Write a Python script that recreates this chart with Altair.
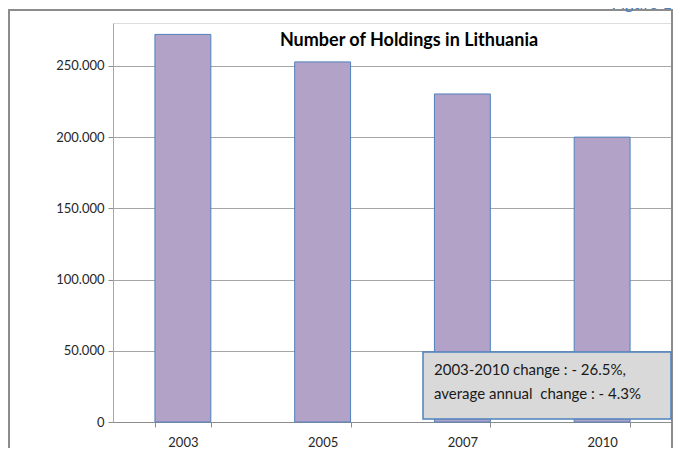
import altair as alt
import pandas as pd

years = ["2003", "2005", "2007", "2010"]
holdings = [272000, 252700, 230200, 199900]
title_text = "Number of Holdings in Lithuania"
note_lines = ["2003-2010 change : - 26.5%,", "average annual  change : - 4.3%"]
figure_label = "Figure 1"

df = pd.DataFrame({"year": years, "holdings": holdings})

W, H = 559, 399
FONT = "Lato"

x_enc = alt.X(
    "year:N",
    sort=years,
    title=None,
    scale=alt.Scale(paddingInner=0.6, paddingOuter=0.3),
    axis=alt.Axis(
        labelAngle=0, labelFont=FONT, labelFontSize=13, labelColor="#262626",
        domainColor="#8c8c8c", tickColor="#8c8c8c", tickSize=5, labelPadding=9,
        tickBand="extent", grid=False, labelBaseline="top",
    ),
)
y_enc = alt.Y(
    "holdings:Q",
    title=None,
    scale=alt.Scale(domain=[0, 280000], nice=False),
    axis=alt.Axis(
        values=[0, 50000, 100000, 150000, 200000, 250000],
        labelExpr="replace(format(datum.value, ','), ',', '.')",
        labelFont=FONT, labelFontSize=13, labelColor="#262626",
        domainColor="#a6a6a6", tickColor="#8c8c8c", tickSize=5, labelPadding=4,
        gridColor="#a6a6a6", gridWidth=1,
    ),
)

frame = alt.Chart(df).mark_rect(fill=None, stroke="#8c8c8c", strokeWidth=2, clip=False).encode(
    x=alt.value(-104), x2=alt.value(559), y=alt.value(-13), y2=alt.value(460)
)

bars = alt.Chart(df).mark_bar(
    color="#b3a2c7", stroke="#4f81bd", strokeWidth=1
).encode(x=x_enc, y=y_enc)

title_df = pd.DataFrame({"t": [title_text]})
title = alt.Chart(title_df).mark_text(
    font=FONT, fontSize=18, fontWeight="bold", color="#000000", align="center", baseline="alphabetic"
).encode(text="t:N", x=alt.value(296), y=alt.value(23))

fig_df = pd.DataFrame({"t": [figure_label]})
fig = alt.Chart(fig_df).mark_text(
    font=FONT, fontSize=18, fontStyle="italic", color="#4f81bd", align="right", baseline="alphabetic", clip=False
).encode(text="t:N", x=alt.value(560), y=alt.value(-14))

box = alt.Chart(title_df).mark_rect(fill="#d9d9d9", stroke="#4f81bd", strokeWidth=1.5).encode(
    x=alt.value(310), x2=alt.value(558), y=alt.value(329), y2=alt.value(396)
)

# keep the double space visible (SVG collapses runs of spaces)
note_text = "\n".join(line.replace("  ", " \u00a0") for line in note_lines)
note_df = pd.DataFrame({"t": [note_text]})
note = alt.Chart(note_df).mark_text(
    font=FONT, fontSize=15, color="#1a1a1a", align="left", baseline="alphabetic",
    lineBreak="\n", lineHeight=24,
).encode(text="t:N", x=alt.value(321), y=alt.value(352))

chart = alt.layer(frame, bars, title, fig, box, note).properties(
    width=W, height=H,
    autosize=alt.AutoSizeParams(type="none"),
    padding={"left": 105, "top": 15, "right": 1, "bottom": 26},
).configure_view(stroke=None).configure(background="white")

chart.save("out.html", embed_options={"renderer": "svg", "actions": False})
